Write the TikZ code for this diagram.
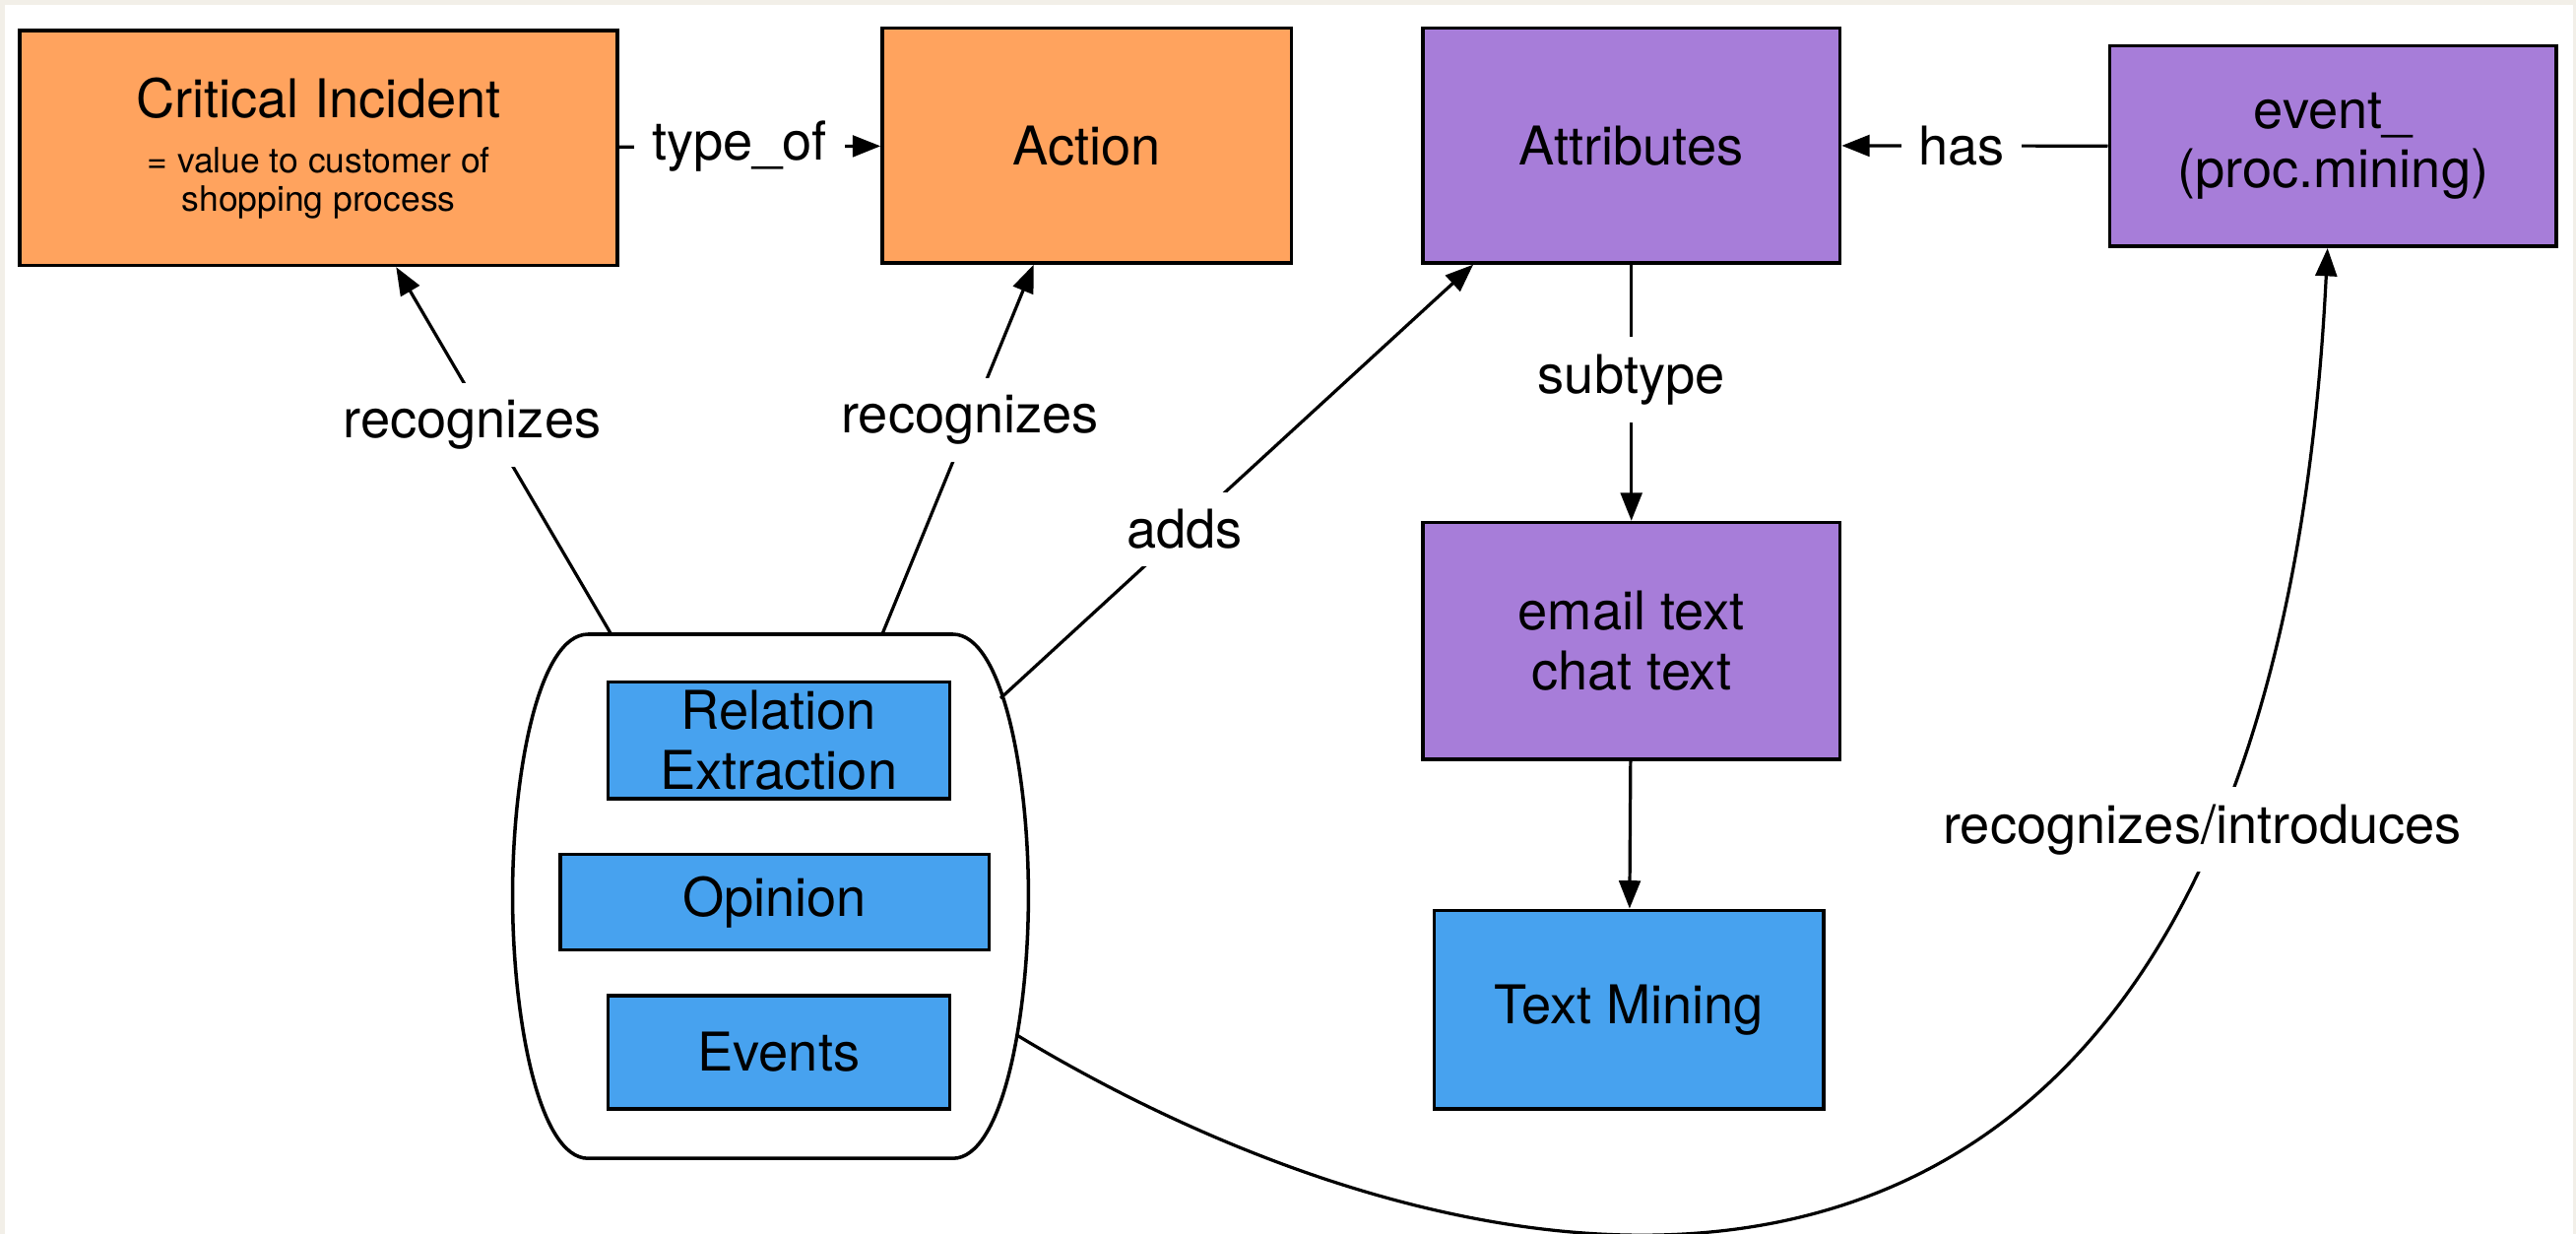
\documentclass[tikz,border=0pt]{standalone}
\usepackage{fontspec}
\setmainfont{TeX Gyre Heros}
\usepackage{tikz}
\usetikzlibrary{arrows.meta}

\definecolor{boxorange}{HTML}{FFA35E}
\definecolor{boxpurple}{HTML}{A77DD9}
\definecolor{boxblue}{HTML}{47A2EF}
\definecolor{framebeige}{HTML}{F2EFE8}

\tikzset{
  box/.style={draw, line width=1.2pt, inner sep=0pt, align=center, font=\fontsize{18.5}{20.5}\selectfont},
  lbl/.style={fill=white, inner sep=6pt, font=\fontsize{18.5}{20.5}\selectfont},
  conn/.style={->, line width=1.1pt},
}

\begin{document}
\begin{tikzpicture}[x=0.02cm, y=-0.02cm, >={Triangle[length=0.34cm,width=0.26cm]}]

%the canvas
    \useasboundingbox (0,0) rectangle (1568,751);
    \fill[framebeige] (0,0) rectangle (1568,751);
    \fill[white] (3,3) rectangle (1566,751);

%upper row
    \node[box, fill=boxorange, minimum width=7.28cm, minimum height=2.86cm] (crit) at (194,90)
        {Critical Incident\\[-1.2pt]\fontsize{12.1}{13}\selectfont = value to customer of\\[-7.4pt]\fontsize{12.1}{13}\selectfont shopping process};
    \node[box, fill=boxorange, minimum width=4.98cm, minimum height=2.86cm] (action) at (661.5,88.5) {Action};
    \node[box, fill=boxpurple, minimum width=5.08cm, minimum height=2.86cm] (attr) at (993,88.5) {Attributes};
    \node[box, fill=boxpurple, minimum width=5.44cm, minimum height=2.44cm] (event) at (1420,89) {event\_\\(proc.mining)};

%right column
    \node[box, fill=boxpurple, minimum width=5.08cm, minimum height=2.88cm] (mail) at (993,390) {email text\\chat text};
    \node[box, fill=boxblue, minimum width=4.74cm, minimum height=2.42cm] (tmining) at (991.5,614.5) {Text Mining};

%the group of methods
    \draw[line width=1.2pt] (358,386) -- (580,386) .. controls (610,386) and (626,470) .. (626,545)
        .. controls (626,620) and (610,705) .. (580,705) -- (358,705)
        .. controls (328,705) and (312,620) .. (312,545) .. controls (312,470) and (328,386) .. (358,386) -- cycle;
    \coordinate (grpA) at (372,386);
    \coordinate (grpB) at (537,386);
    \coordinate (grpC) at (609,425);
    \coordinate (grpD) at (619,630);

    \node[box, fill=boxblue, minimum width=4.16cm, minimum height=1.42cm] (relx) at (474,450.5) {Relation\\Extraction};
    \node[box, fill=boxblue, minimum width=5.22cm, minimum height=1.16cm] (opin) at (471.5,549) {Opinion};
    \node[box, fill=boxblue, minimum width=4.16cm, minimum height=1.38cm] (evts) at (474,640.5) {Events};

%the relations
    \draw[conn] (crit) -- node[lbl, pos=0.46]{type\_of} (action);
    \draw[conn] (event) -- node[lbl, pos=0.55]{has} (attr);
    \draw[conn] (attr) -- node[lbl, pos=0.45]{subtype} (mail);
    \draw[conn] (mail) -- (tmining);
    \draw[conn] (grpA) -- node[lbl, pos=0.57, xshift=-0.2cm]{recognizes} (crit.-57);
    \draw[conn] (grpB) -- node[lbl, pos=0.58]{recognizes} (action.-114);
    \draw[conn] (grpC) -- node[lbl, pos=0.39]{adds} (attr.-143);
    \draw[conn] (grpD) .. controls (900,800) and (1380,900) .. node[lbl, pos=0.8, xshift=-0.12cm]{recognizes/introduces} (event.-93);
\end{tikzpicture}
\end{document}
